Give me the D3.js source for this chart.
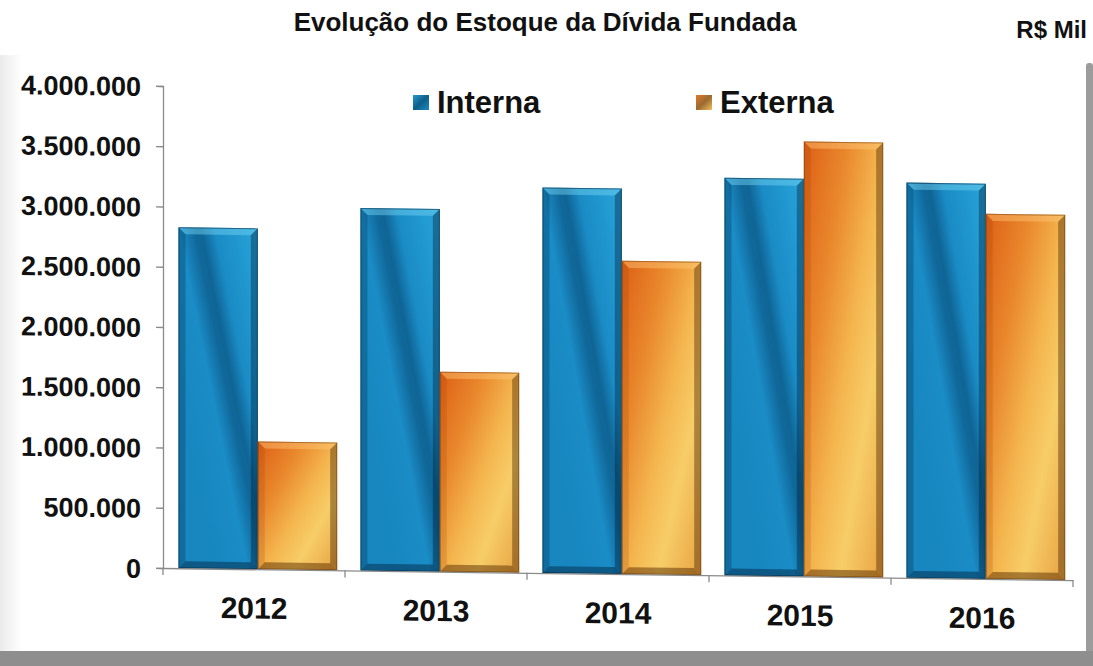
<!DOCTYPE html>
<html>
<head>
<meta charset="utf-8">
<script src="https://cdn.jsdelivr.net/npm/d3@7"></script>
<style>
  html, body { margin: 0; padding: 0; background: #fff; }
  svg { display: block; }
</style>
</head>
<body>
<svg id="chart" width="1093" height="666"></svg>
<script>
// Estoque da dívida fundada (R$ mil)
const years = ["2012", "2013", "2014", "2015", "2016"];
const interna = [2830000, 3010000, 3200000, 3300000, 3280000];
const externa = [1060000, 1660000, 2600000, 3610000, 3030000];
const seriesNames = ["Interna", "Externa"];
const yTicks = [0, 500000, 1000000, 1500000, 2000000, 2500000, 3000000, 3500000, 4000000];
const titleText = "Evolução do Estoque da Dívida Fundada";
const unitText = "R$ Mil";

const svg = d3.select("#chart");
const W = 1093, H = 666;
const font = "'Liberation Sans', Arial, sans-serif";

const ptBR = d3.formatLocale({ decimal: ",", thousands: ".", grouping: [3], currency: ["R$ ", ""] });
const fmt = ptBR.format(",d");

// ---------- gradients ----------
const defs = svg.append("defs");

const blueGrad = defs.append("linearGradient")
  .attr("id", "blueBody").attr("x1", 0.1).attr("y1", 0.6).attr("x2", 0.9).attr("y2", -0.1);
[[0, "#1887c0"], [0.3, "#1a8cc6"], [0.44, "#10689a"], [0.5, "#0f6595"], [0.62, "#1a8bc5"], [0.85, "#229ad2"], [1, "#2aa2d8"]]
  .forEach(([o, c]) => blueGrad.append("stop").attr("offset", o).attr("stop-color", c));

const orangeGrad = defs.append("linearGradient")
  .attr("id", "orangeBody").attr("x1", 0).attr("y1", 0).attr("x2", 1).attr("y2", 0.9);
[[0, "#dd5f16"], [0.3, "#e9872c"], [0.55, "#f4b54e"], [0.75, "#f7cd68"], [1, "#eaa948"]]
  .forEach(([o, c]) => orangeGrad.append("stop").attr("offset", o).attr("stop-color", c));

const sideGrad = defs.append("linearGradient")
  .attr("id", "leftStrip").attr("x1", 0).attr("x2", 1).attr("y1", 0).attr("y2", 0);
sideGrad.append("stop").attr("offset", 0).attr("stop-color", "#ebebeb");
sideGrad.append("stop").attr("offset", 1).attr("stop-color", "#ffffff");

const legBlue = defs.append("linearGradient").attr("id", "legBlue")
  .attr("x1", 0).attr("y1", 0).attr("x2", 1).attr("y2", 1);
legBlue.append("stop").attr("offset", 0).attr("stop-color", "#2a9ad0");
legBlue.append("stop").attr("offset", 0.5).attr("stop-color", "#0d5f88");
legBlue.append("stop").attr("offset", 1).attr("stop-color", "#1c8cc4");
const legOrange = defs.append("linearGradient").attr("id", "legOrange")
  .attr("x1", 0).attr("y1", 0).attr("x2", 1).attr("y2", 1);
legOrange.append("stop").attr("offset", 0).attr("stop-color", "#e07a2a");
legOrange.append("stop").attr("offset", 0.5).attr("stop-color", "#9a6a30");
legOrange.append("stop").attr("offset", 1).attr("stop-color", "#f2bd5c");

// ---------- page frame ----------
svg.append("rect").attr("x", 0).attr("y", 0).attr("width", W).attr("height", H).attr("fill", "#ffffff");
svg.append("rect").attr("x", 0).attr("y", 55).attr("width", 22).attr("height", 600).attr("fill", "url(#leftStrip)");
svg.append("rect").attr("x", 1086).attr("y", 63).attr("width", 7).attr("height", H - 63)
  .attr("rx", 3).attr("fill", "#9c9c9c");
svg.append("rect").attr("x", 0).attr("y", 651).attr("width", W).attr("height", 15).attr("fill", "#8e8e8e");

// ---------- titles ----------
svg.append("text").attr("x", 545).attr("y", 31).attr("text-anchor", "middle")
  .attr("font-family", font).attr("font-weight", "bold").attr("font-size", 26).attr("fill", "#111")
  .text(titleText);
svg.append("text").attr("x", 1087).attr("y", 38).attr("text-anchor", "end")
  .attr("font-family", font).attr("font-weight", "bold").attr("font-size", 24).attr("fill", "#111")
  .text(unitText);

// ---------- plot ----------
const x0 = 163, x1 = 1073, yBase = 568, yTop = 86;
// the printed plot sits slightly skewed on the page
const plot = svg.append("g")
  .attr("transform", `translate(${x0},${yBase}) skewY(0.76) translate(${-x0},${-yBase})`);

const x = d3.scaleBand().domain(years).range([x0, x1]).padding(0);
const bw = x.bandwidth();
const xs = d3.scaleBand().domain(seriesNames)
  .range([bw * 0.085, bw * 0.085 + 2 * bw * 0.436]).padding(0);
const y = d3.scaleLinear().domain([0, 4000000]).range([yBase, yTop]);

const rows = years.map((yr, i) => ({ year: yr, values: [
  { key: "Interna", v: interna[i] }, { key: "Externa", v: externa[i] }] }));

const bevel = 7;
const groups = plot.selectAll("g.year").data(rows).join("g")
  .attr("class", "year").attr("transform", d => `translate(${x(d.year)},0)`);

const bars = groups.selectAll("g.bar").data(d => d.values).join("g").attr("class", "bar");

bars.each(function (d) {
  const g = d3.select(this);
  const bx = xs(d.key), w = xs.bandwidth(), ty = y(d.v), h = yBase - ty, b = bevel;
  const isBlue = d.key === "Interna";
  g.append("rect").attr("x", bx).attr("y", ty).attr("width", w).attr("height", h)
    .attr("fill", isBlue ? "url(#blueBody)" : "url(#orangeBody)");
  const poly = (pts, fill) => g.append("polygon")
    .attr("points", pts.map(p => p.join(",")).join(" ")).attr("fill", fill);
  // top bevel
  poly([[bx, ty], [bx + w, ty], [bx + w - b, ty + b], [bx + b, ty + b]],
    isBlue ? "rgba(120,215,245,0.45)" : "rgba(255,200,120,0.45)");
  // left bevel
  poly([[bx, ty], [bx + b, ty + b], [bx + b, ty + h - b], [bx, ty + h]],
    isBlue ? "rgba(0,40,70,0.28)" : "rgba(150,60,0,0.18)");
  // right bevel
  poly([[bx + w, ty], [bx + w, ty + h], [bx + w - b, ty + h - b], [bx + w - b, ty + b]],
    isBlue ? "rgba(0,30,50,0.38)" : "rgba(70,35,0,0.42)");
  // bottom bevel
  poly([[bx, ty + h], [bx + b, ty + h - b], [bx + w - b, ty + h - b], [bx + w, ty + h]],
    isBlue ? "rgba(0,30,60,0.45)" : "rgba(90,45,0,0.5)");
  g.append("rect").attr("x", bx + 0.5).attr("y", ty + 0.5).attr("width", w - 1).attr("height", h - 1)
    .attr("fill", "none").attr("stroke", isBlue ? "rgba(0,40,70,0.55)" : "rgba(110,55,10,0.5)").attr("stroke-width", 1);
});

// axes
const yAxis = d3.axisLeft(y).tickValues(yTicks).tickFormat(fmt).tickSize(7).tickPadding(15);
const yg = plot.append("g").attr("transform", `translate(${x0},0)`).call(yAxis);
yg.select(".domain").attr("stroke", "#8a8a8a").attr("stroke-width", 1.3);
yg.selectAll(".tick line").attr("stroke", "#8a8a8a").attr("stroke-width", 1.3);
yg.selectAll(".tick text").attr("font-family", font).attr("font-weight", "bold")
  .attr("font-size", 27).attr("fill", "#111").attr("dy", "0.36em");

const xAxis = d3.axisBottom(x).tickSize(0).tickPadding(28);
const xg = plot.append("g").attr("transform", `translate(0,${yBase})`).call(xAxis);
xg.select(".domain").attr("stroke", "#8a8a8a").attr("stroke-width", 1.3);
xg.selectAll(".tick text").attr("font-family", font).attr("font-weight", "bold")
  .attr("font-size", 30).attr("fill", "#111");
// category boundary ticks
const bounds = years.map(yr => x(yr)).concat([x1]);
xg.selectAll("line.bound").data(bounds).join("line").attr("class", "bound")
  .attr("x1", d => d).attr("x2", d => d).attr("y1", 0).attr("y2", 7)
  .attr("stroke", "#8a8a8a").attr("stroke-width", 1.3);

// legend
const legend = svg.append("g");
const legItems = [
  { name: seriesNames[0], sx: 413, fill: "url(#legBlue)" },
  { name: seriesNames[1], sx: 696, fill: "url(#legOrange)" }
];
legItems.forEach(it => {
  legend.append("rect").attr("x", it.sx).attr("y", 95).attr("width", 16).attr("height", 15).attr("fill", it.fill);
  legend.append("text").attr("x", it.sx + 24).attr("y", 113)
    .attr("font-family", font).attr("font-weight", "bold").attr("font-size", 31).attr("fill", "#111")
    .text(it.name);
});
</script>
</body>
</html>
